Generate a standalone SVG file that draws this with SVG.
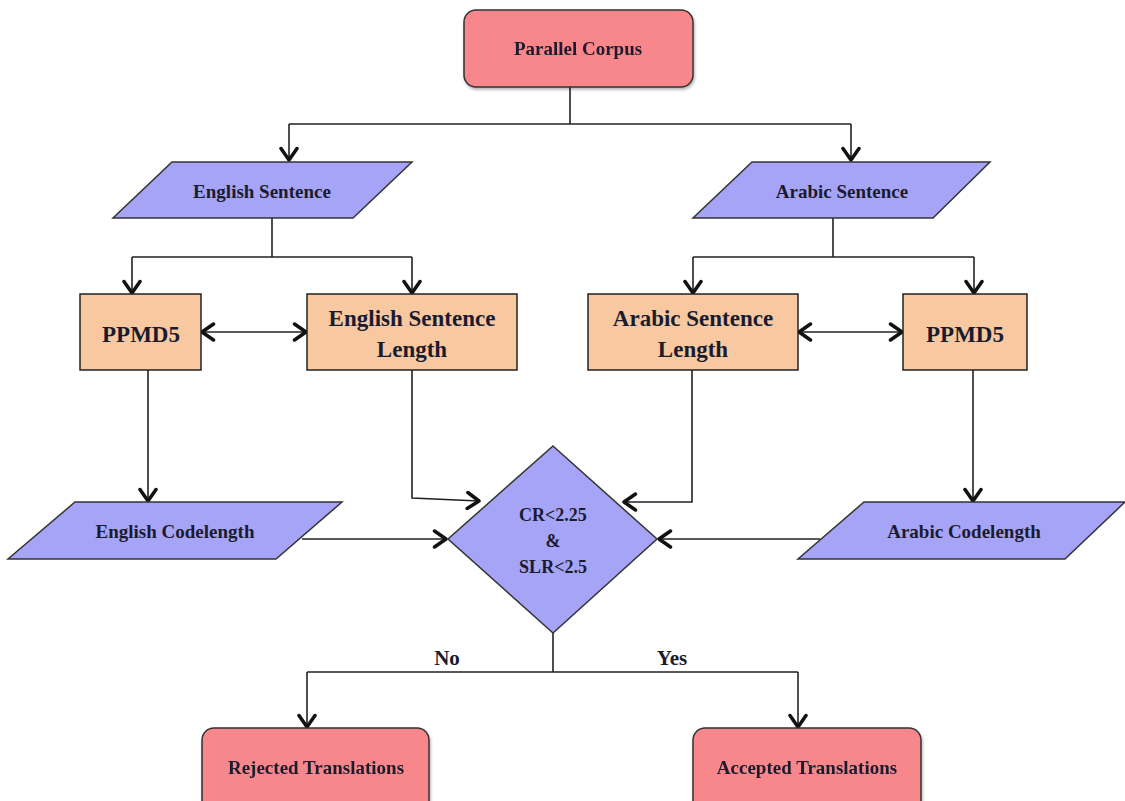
<svg xmlns="http://www.w3.org/2000/svg" width="1125" height="801" viewBox="0 0 1125 801">
<defs>
<style>
.pink{fill:#f8878b;stroke:#333;stroke-width:1.5}
.lav{fill:#a6a4f7;stroke:#333;stroke-width:1.5}
.peach{fill:#f8c9a0;stroke:#222;stroke-width:1.5}
.t{font-family:"Liberation Serif","DejaVu Serif",serif;font-weight:bold;fill:#1b1b2e;text-anchor:middle;dominant-baseline:central}
.s17{font-size:19px}
.s22{font-size:23px}
.c{fill:none;stroke:#222;stroke-width:1.6}
</style>
<marker id="ah" viewBox="0 0 16 20" refX="14" refY="10" markerWidth="16" markerHeight="20" markerUnits="userSpaceOnUse" orient="auto-start-reverse">
<path d="M2.5,2 L14,10 L2.5,18" fill="none" stroke="#111" stroke-width="3.5" stroke-linecap="round" stroke-linejoin="round"/>
</marker>
<filter id="sh" x="-5%" y="-5%" width="110%" height="120%">
<feDropShadow dx="1" dy="2" stdDeviation="1.5" flood-color="#000" flood-opacity="0.3"/>
</filter>
</defs>
<rect width="1125" height="801" fill="#fff"/>
<g id="connectors">
<path class="c" d="M570,87 V124"/>
<path class="c" d="M289,124 H851"/>
<path class="c" d="M289,124 V160" marker-end="url(#ah)"/>
<path class="c" d="M851,124 V160" marker-end="url(#ah)"/>
<path class="c" d="M272,218 V257 M132,257 H412 M693,257 H974 M833,218 V257"/>
<path class="c" d="M132,257 V293" marker-end="url(#ah)"/>
<path class="c" d="M412,257 V293" marker-end="url(#ah)"/>
<path class="c" d="M693,257 V293" marker-end="url(#ah)"/>
<path class="c" d="M974,257 V293" marker-end="url(#ah)"/>
<path class="c" d="M202,332 H306" marker-start="url(#ah)" marker-end="url(#ah)"/>
<path class="c" d="M799,332 H902" marker-start="url(#ah)" marker-end="url(#ah)"/>
<path class="c" d="M148,370 V501" marker-end="url(#ah)"/>
<path class="c" d="M973,370 V501" marker-end="url(#ah)"/>
<path class="c" d="M412,370 V498 L479,501" marker-end="url(#ah)"/>
<path class="c" d="M692,370 V502 H624" marker-end="url(#ah)"/>
<path class="c" d="M302,539 H446" marker-end="url(#ah)"/>
<path class="c" d="M820,539 H659" marker-end="url(#ah)"/>
<path class="c" d="M553,633 V672 M307,672 H798"/>
<path class="c" d="M307,672 V727" marker-end="url(#ah)"/>
<path class="c" d="M798,672 V727" marker-end="url(#ah)"/>
<text class="t" x="447" y="658" style="font-size:21px">No</text>
<text class="t" x="672" y="658" style="font-size:21px">Yes</text>
</g>
<g id="parallel-corpus" filter="url(#sh)">
<rect class="pink" x="464" y="10" width="229" height="77" rx="12"/>
<text class="t s17" x="578" y="48">Parallel Corpus</text>
</g>
<g id="english-sentence">
<polygon class="lav" points="172,162 412,162 353,218 113,218"/>
<text class="t s17" x="262" y="191">English Sentence</text>
</g>
<g id="arabic-sentence">
<polygon class="lav" points="752,162 990,162 933,218 693,218"/>
<text class="t s17" x="842" y="191">Arabic Sentence</text>
</g>
<g id="ppmd5-en">
<rect class="peach" x="80" y="294" width="121" height="76"/>
<text class="t s22" x="141" y="334">PPMD5</text>
</g>
<g id="english-sentence-length">
<rect class="peach" x="307" y="294" width="210" height="76"/>
<text class="t s22" x="412" y="318">English Sentence</text>
<text class="t s22" x="412" y="349">Length</text>
</g>
<g id="arabic-sentence-length">
<rect class="peach" x="588" y="294" width="210" height="76"/>
<text class="t s22" x="693" y="318">Arabic Sentence</text>
<text class="t s22" x="693" y="349">Length</text>
</g>
<g id="ppmd5-ar">
<rect class="peach" x="903" y="294" width="124" height="76"/>
<text class="t s22" x="965" y="334">PPMD5</text>
</g>
<g id="english-codelength">
<polygon class="lav" points="75,502 342,502 276,559 8,559"/>
<text class="t s17" x="175" y="531">English Codelength</text>
</g>
<g id="arabic-codelength">
<polygon class="lav" points="864,502 1125,502 1065,559 798,559"/>
<text class="t s17" x="964" y="531">Arabic Codelength</text>
</g>
<g id="decision">
<polygon class="lav" points="553,446 657,539 553,633 448,539"/>
<text class="t" style="font-size:18px" x="553" y="515">CR&lt;2.25</text>
<text class="t" style="font-size:18px" x="553" y="541">&amp;</text>
<text class="t" style="font-size:18px" x="553" y="567">SLR&lt;2.5</text>
</g>
<g id="rejected" filter="url(#sh)">
<rect class="pink" x="202" y="728" width="227" height="90" rx="12"/>
<text class="t s17" x="316" y="767">Rejected Translations</text>
</g>
<g id="accepted" filter="url(#sh)">
<rect class="pink" x="693" y="728" width="228" height="90" rx="12"/>
<text class="t s17" x="807" y="767">Accepted Translations</text>
</g>
</svg>
